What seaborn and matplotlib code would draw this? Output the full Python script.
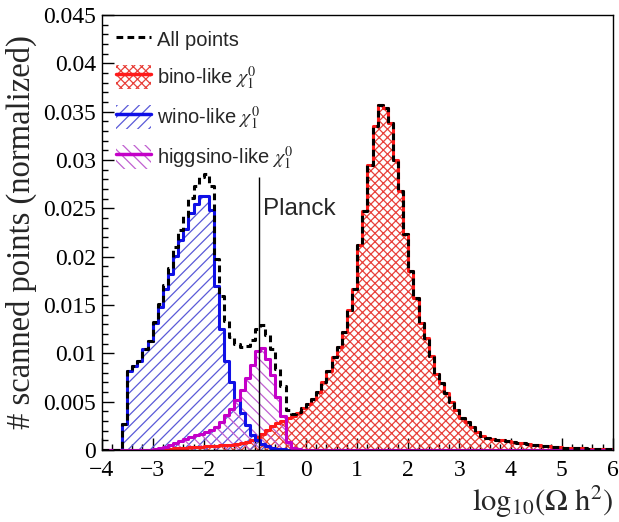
import numpy as np
import matplotlib
matplotlib.use("Agg")
import matplotlib.pyplot as plt
import seaborn as sns
from matplotlib.patches import Patch
from matplotlib.lines import Line2D
from matplotlib.legend_handler import HandlerTuple
from matplotlib.ticker import MultipleLocator, FuncFormatter

# ---------------- data (100 bins of width 0.1 from -4 to 6) ----------------
x_min, x_max, n_bins = -4.0, 6.0, 100

wino = [
    0, 0, 0, 0, 0.0027, 0.0082, 0.0087, 0.0092, 0.0104, 0.0113,
    0.0131, 0.0148, 0.0167, 0.0182, 0.0201, 0.0217, 0.0229, 0.0245, 0.0255, 0.0263,
    0.0263, 0.0248, 0.0170, 0.0125, 0.0092, 0.0070, 0.0052, 0.0038, 0.0026, 0.0016,
    0.0010, 0.0006, 0.0004, 0.0002, 0.0001, 0.0001, 0, 0, 0, 0,
    0, 0, 0, 0, 0, 0, 0, 0, 0, 0,
    0, 0, 0, 0, 0, 0, 0, 0, 0, 0,
    0, 0, 0, 0, 0, 0, 0, 0, 0, 0,
    0, 0, 0, 0, 0, 0, 0, 0, 0, 0,
    0, 0, 0, 0, 0, 0, 0, 0, 0, 0,
    0, 0, 0, 0, 0, 0, 0, 0, 0, 0,
]

higgsino = [
    0, 0, 0, 0, 0, 0, 0, 0, 0, 0,
    0.0001, 0.0002, 0.0003, 0.0005, 0.0007, 0.0009, 0.0011, 0.0013, 0.0015, 0.0017,
    0.0019, 0.0021, 0.0024, 0.0029, 0.0036, 0.0042, 0.0052, 0.0062, 0.0074, 0.0088,
    0.0102, 0.0106, 0.0094, 0.0078, 0.0055, 0.0035, 0.0008, 0.0002, 0.0001, 0,
    0, 0, 0, 0, 0, 0, 0, 0, 0, 0,
    0, 0, 0, 0, 0, 0, 0, 0, 0, 0,
    0, 0, 0, 0, 0, 0, 0, 0, 0, 0,
    0, 0, 0, 0, 0, 0, 0, 0, 0, 0,
    0, 0, 0, 0, 0, 0, 0, 0, 0, 0,
    0, 0, 0, 0, 0, 0, 0, 0, 0, 0,
]

bino = [
    0, 0, 0, 0, 0, 0, 0, 0, 0, 0,
    0, 0.0001, 0.0001, 0.0001, 0.0002, 0.0002, 0.0002, 0.0003, 0.0003, 0.0003,
    0.0004, 0.0004, 0.0004, 0.0005, 0.0005, 0.0005, 0.0006, 0.0007, 0.0008, 0.0010,
    0.0013, 0.0017, 0.0021, 0.0025, 0.0028, 0.0030, 0.0033, 0.0035, 0.0038, 0.0043,
    0.0048, 0.0053, 0.0060, 0.0070, 0.0082, 0.0096, 0.0107, 0.0122, 0.0145, 0.0167,
    0.0212, 0.0247, 0.0295, 0.0335, 0.0357, 0.0354, 0.0338, 0.0300, 0.0268, 0.0224,
    0.0185, 0.0157, 0.0131, 0.0116, 0.0097, 0.0079, 0.0069, 0.0059, 0.0050, 0.0041,
    0.0033, 0.0029, 0.0024, 0.0019, 0.0014, 0.0012, 0.0011, 0.0010, 0.0010, 0.0009,
    0.0008, 0.0007, 0.0007, 0.0006, 0.0005, 0.0005, 0.0004, 0.0004, 0.0003, 0.0003,
    0.0002, 0.0002, 0.0002, 0.0002, 0.0002, 0.0001, 0.0001, 0.0001, 0.0001, 0.0001,
]

all_points = [
    0, 0, 0, 0, 0.0027, 0.0082, 0.0087, 0.0092, 0.0104, 0.0113,
    0.0132, 0.0151, 0.0171, 0.0188, 0.0210, 0.0228, 0.0242, 0.0261, 0.0273, 0.0283,
    0.0286, 0.0273, 0.0198, 0.0159, 0.0133, 0.0117, 0.0110, 0.0107, 0.0108, 0.0114,
    0.0125, 0.0129, 0.0119, 0.0105, 0.0084, 0.0066, 0.0041, 0.0037, 0.0039, 0.0043,
    0.0048, 0.0053, 0.0060, 0.0070, 0.0082, 0.0096, 0.0107, 0.0122, 0.0145, 0.0167,
    0.0212, 0.0247, 0.0295, 0.0335, 0.0357, 0.0354, 0.0338, 0.0300, 0.0268, 0.0224,
    0.0185, 0.0157, 0.0131, 0.0116, 0.0097, 0.0079, 0.0069, 0.0059, 0.0050, 0.0041,
    0.0033, 0.0029, 0.0024, 0.0019, 0.0014, 0.0012, 0.0011, 0.0010, 0.0010, 0.0009,
    0.0008, 0.0007, 0.0007, 0.0006, 0.0005, 0.0005, 0.0004, 0.0004, 0.0003, 0.0003,
    0.0002, 0.0002, 0.0002, 0.0002, 0.0002, 0.0001, 0.0001, 0.0001, 0.0001, 0.0001,
]

labels = ["All points", r"bino-like $\chi_1^0$", r"wino-like $\chi_1^0$",
          r"higgsino-like $\chi_1^0$"]
planck_x = np.log10(0.12)
planck_top = 0.0282

# ---------------- style ----------------
sns.set_theme(style="ticks")
plt.rcParams["font.family"] = ["Liberation Sans", "DejaVu Sans"]
plt.rcParams["mathtext.fontset"] = "stix"
plt.rcParams["hatch.linewidth"] = 0.9

C_RED, C_BLUE, C_MAG = "#ff1a1a", "#1010e6", "#c400c8"
H_RED, H_BLUE, H_MAG = "#e8403a", "#5a5ad8", "#c060d0"

fig = plt.figure(figsize=(6.19, 5.22), dpi=100)
ax = fig.add_axes([0.164, 0.138, 0.826, 0.833])

edges = list(np.linspace(x_min, x_max, n_bins + 1))
centers = [0.5 * (a + b) for a, b in zip(edges[:-1], edges[1:])]


def hatched(values, hcolor, hatch):
    sns.histplot(x=centers, weights=values, bins=edges, element="step",
                 fill=True, ax=ax, color=hcolor)
    coll = ax.collections[-1]
    coll.set_facecolor("none")
    coll.set_edgecolor(hcolor)
    coll.set_linewidth(0)
    coll.set_hatch(hatch)


def outline(values, color, lw, ls="-"):
    sns.histplot(x=centers, weights=values, bins=edges, element="step",
                 fill=False, ax=ax, color=color, linewidth=lw, linestyle=ls)


hatched(bino, H_RED, "xxxx")
hatched(wino, H_BLUE, "///")
hatched(higgsino, H_MAG, "\\\\\\")
outline(bino, C_RED, 2.2)
outline(wino, C_BLUE, 2.2)
outline(higgsino, C_MAG, 2.2)
outline(all_points, "black", 2.2, (0, (2.2, 1.4)))

ax.vlines(planck_x, 0, planck_top, color="black", lw=1.0)
ax.text(planck_x + 0.07, 0.0249, "Planck", fontsize=17.5, va="center",
        ha="left", family=["Liberation Sans", "DejaVu Sans"])

ax.set_xlim(x_min, x_max)
ax.set_ylim(0, 0.045)

serif = ["Liberation Serif", "DejaVu Serif"]
ax.xaxis.set_major_locator(MultipleLocator(1))
ax.xaxis.set_minor_locator(MultipleLocator(0.2))
ax.yaxis.set_major_locator(MultipleLocator(0.005))
ax.yaxis.set_minor_locator(MultipleLocator(0.001))
ax.xaxis.set_major_formatter(FuncFormatter(lambda v, p: f"{round(v, 3):g}".replace("-", "\u2212")))
ax.yaxis.set_major_formatter(FuncFormatter(lambda v, p: f"{round(v, 4):g}"))
ax.tick_params(axis="both", which="both", direction="in", top=False, right=False,
               width=1.0, colors="black")
ax.tick_params(axis="both", which="major", length=8.5, labelsize=17)
ax.tick_params(axis="x", which="major", pad=7)
ax.tick_params(axis="y", which="major", pad=4)
ax.tick_params(axis="both", which="minor", length=4.3)
for lab in ax.get_xticklabels() + ax.get_yticklabels():
    lab.set_family(serif)
for sp in ax.spines.values():
    sp.set_visible(True)
    sp.set_linewidth(1.0)
    sp.set_color("black")

ax.set_ylabel("# scanned points (normalized)", fontsize=23.5, family=serif,
              loc="top")
ax.yaxis.set_label_coords(-0.126, 0.955)
ax.set_xlabel(r"$\mathrm{log}_{10}(\Omega\ \mathrm{h}^{2})$", fontsize=22,
              loc="right")
ax.xaxis.set_label_coords(1.0, -0.077)

handles = [
    Line2D([], [], color="black", lw=2.2, ls=(0, (2.2, 1.4))),
    (Patch(facecolor="white", edgecolor=H_RED, hatch="xxxx", lw=0),
     Line2D([], [], color=C_RED, lw=2.5)),
    (Patch(facecolor="white", edgecolor=H_BLUE, hatch="///", lw=0),
     Line2D([], [], color=C_BLUE, lw=2.5)),
    (Patch(facecolor="white", edgecolor=H_MAG, hatch="\\\\\\", lw=0),
     Line2D([], [], color=C_MAG, lw=2.5)),
]
leg = ax.legend(handles, labels, handler_map={tuple: HandlerTuple(ndivide=1)},
                loc="upper left", bbox_to_anchor=(0.005, 1.0), frameon=False,
                fontsize=14.5, handlelength=1.75, handleheight=1.5,
                labelspacing=0.62, handletextpad=0.3, borderaxespad=0.2)

fig.savefig("out.png", dpi=100)
